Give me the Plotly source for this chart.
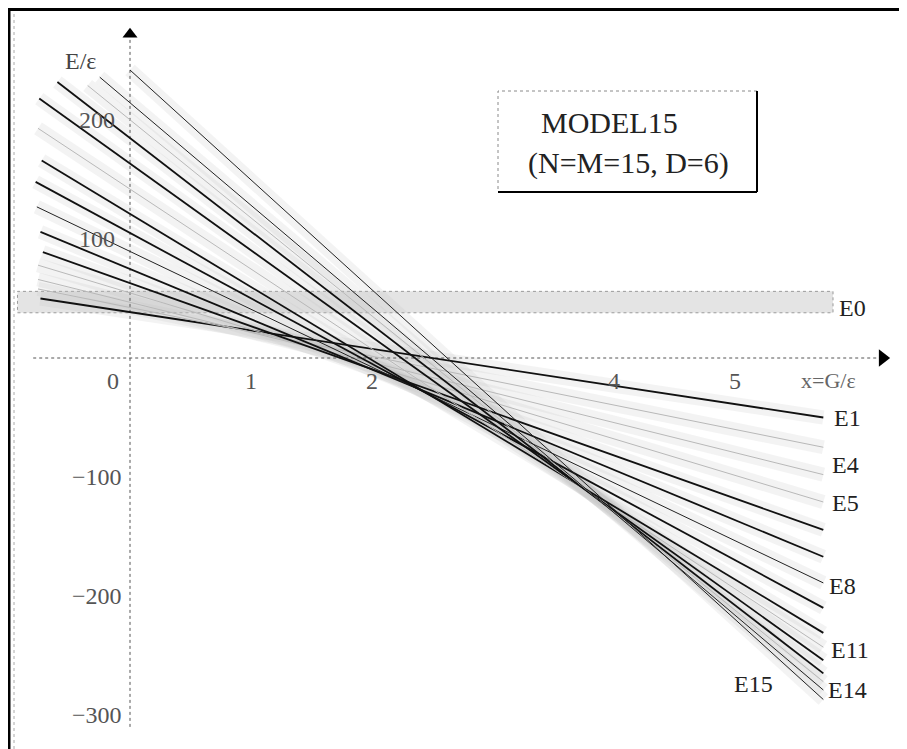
import plotly.graph_objects as go

# ---------------- data ----------------
level_names = ["E1", "E2", "E3", "E4", "E5", "E6", "E7", "E8",
               "E9", "E10", "E11", "E12", "E13", "E14", "E15"]
x_start = [-0.74, -0.76, -0.76, -0.76, -0.72, -0.74, -0.77, -0.78,
           -0.73, -0.76, -0.75, -0.60, -0.35, -0.25, 0.00]
e_start = [50, 58, 66, 78, 89, 106, 127, 148,
           166, 193, 218, 232, 229, 236, 242]
x_end = 5.73
e_end = [-50, -75, -98, -121, -144.5, -167, -189, -210,
         -231, -243, -254, -265, -272, -279, -287]
line_style = ["dark", "faint", "faint", "faint", "dark", "dark", "thin", "dark",
              "dark", "faint", "dark", "dark", "faint", "thin", "thin"]

e0_value = 47
e0_x = [-0.93, 5.81]

y_ticks = [200, 100, -100, -200, -300]
x_ticks = [0, 1, 2, 4, 5]

label_names = ["E0", "E1", "E4", "E5", "E8", "E11", "E14", "E15"]
label_x = [5.97, 5.93, 5.91, 5.91, 5.89, 5.95, 5.93, 5.15]
label_y = [42, -50, -90, -122, -192, -245, -279, -274]

# ---------------- figure ----------------
OFF = 8                      # page body margin of the browser
W, H = 907 - OFF, 749 - OFF
X0, Y0, SX, SY = 130 - OFF, 358 - OFF, 121.0, 1.19   # origin pixel and scale
xr = [-X0 / SX, (W - X0) / SX]
yr = [(Y0 - H) / SY, Y0 / SY]

fig = go.Figure()

styles = {
    "dark": dict(color="#111111", width=1.8),
    "thin": dict(color="#222222", width=1.0),
    "faint": dict(color="#b8b8b8", width=1.0),
}

# soft gray halo imitating the dithered shading of the scan
for xs, ys, ye in zip(x_start, e_start, e_end):
    fig.add_trace(go.Scatter(x=[xs, x_end], y=[ys, ye], mode="lines",
                             line=dict(color="rgba(190,190,190,0.18)", width=14),
                             hoverinfo="skip", showlegend=False))

# E0 band
fig.add_shape(type="rect", x0=e0_x[0], x1=e0_x[1], y0=e0_value - 9, y1=e0_value + 9,
              xref="x", yref="y", fillcolor="#e4e4e4",
              line=dict(color="#9a9a9a", width=1, dash="dot"), layer="below")

# axes (dotted) with arrow heads
fig.add_trace(go.Scatter(x=[0, 0], y=[-310, 268], mode="lines",
                         line=dict(color="#555555", width=1, dash="dot"),
                         hoverinfo="skip", showlegend=False))
fig.add_trace(go.Scatter(x=[-0.8, 6.2], y=[0, 0], mode="lines",
                         line=dict(color="#555555", width=1, dash="dot"),
                         hoverinfo="skip", showlegend=False))
fig.add_trace(go.Scatter(x=[0], y=[272], mode="markers",
                         marker=dict(symbol="triangle-up", size=13, color="black"),
                         hoverinfo="skip", showlegend=False))
fig.add_trace(go.Scatter(x=[6.22], y=[0], mode="markers",
                         marker=dict(symbol="triangle-right", size=15, color="black"),
                         hoverinfo="skip", showlegend=False))

# energy lines
for name, xs, ys, ye, st in zip(level_names, x_start, e_start, e_end, line_style):
    fig.add_trace(go.Scatter(x=[xs, x_end], y=[ys, ye], mode="lines",
                             line=styles[st], name=name, showlegend=False))

font = "Liberation Serif, DejaVu Serif, serif"

# y tick labels
for v in y_ticks:
    fig.add_annotation(x=-0.27, y=v, text=str(v).replace("-", "\u2212"),
                       showarrow=False, xanchor="center", yanchor="middle",
                       font=dict(family=font, size=24, color="#555555"))
# x tick labels
for v in x_ticks:
    fig.add_annotation(x=(v - 0.14) if v == 0 else v, y=-19, text=str(v),
                       showarrow=False, xanchor="center", yanchor="middle",
                       font=dict(family=font, size=24, color="#555555"))

fig.add_annotation(x=5.77, y=-19, text="x=G/ε", showarrow=False,
                   xanchor="center", yanchor="middle",
                   font=dict(family=font, size=22, color="#666666"))
fig.add_annotation(x=-0.41, y=250, text="E/ε", showarrow=False,
                   xanchor="center", yanchor="middle",
                   font=dict(family=font, size=24, color="#444444"))

# level labels
for n, lx, ly in zip(label_names, label_x, label_y):
    fig.add_annotation(x=lx, y=ly, text=n, showarrow=False,
                       xanchor="center", yanchor="middle",
                       font=dict(family=font, size=24, color="#222222"))


# model box (paper coordinates from screenshot pixels)
def px(x):
    return (x - OFF) / W


def py(y):
    return 1 - (y - OFF) / H


fig.add_shape(type="rect", xref="paper", yref="paper",
              x0=px(498), x1=px(757), y0=py(192), y1=py(91),
              line=dict(color="#8a8a8a", width=1, dash="dot"))
fig.add_shape(type="line", xref="paper", yref="paper",
              x0=px(757), x1=px(757), y0=py(192), y1=py(91),
              line=dict(color="black", width=2))
fig.add_shape(type="line", xref="paper", yref="paper",
              x0=px(498), x1=px(757), y0=py(192), y1=py(192),
              line=dict(color="black", width=2))
fig.add_annotation(xref="paper", yref="paper", x=px(609), y=py(122),
                   text="MODEL15", showarrow=False,
                   xanchor="center", yanchor="middle",
                   font=dict(family=font, size=30, color="#222222"))
fig.add_annotation(xref="paper", yref="paper", x=px(628), y=py(163),
                   text="(N=M=15, D=6)", showarrow=False,
                   xanchor="center", yanchor="middle",
                   font=dict(family=font, size=30, color="#222222"))

# outer frame
fig.add_shape(type="line", xref="paper", yref="paper",
              x0=px(7), x1=1, y0=py(9.5), y1=py(9.5),
              line=dict(color="black", width=3))
fig.add_shape(type="line", xref="paper", yref="paper",
              x0=px(9), x1=px(9), y0=0, y1=py(9.5),
              line=dict(color="black", width=3))
fig.add_shape(type="line", xref="paper", yref="paper",
              x0=px(14), x1=px(14), y0=0, y1=py(12),
              line=dict(color="#aaaaaa", width=1, dash="dot"))

fig.update_layout(
    width=W, height=H, autosize=False,
    margin=dict(l=0, r=0, t=0, b=0),
    paper_bgcolor="white", plot_bgcolor="white",
    xaxis=dict(range=xr, visible=False, showgrid=False, zeroline=False),
    yaxis=dict(range=yr, visible=False, showgrid=False, zeroline=False),
    showlegend=False,
)

fig.write_html("out.html")
